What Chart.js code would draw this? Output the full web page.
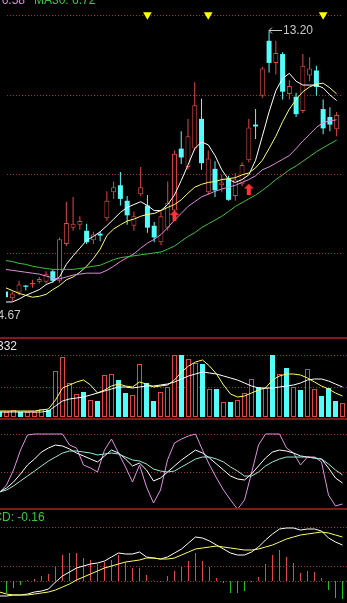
<!DOCTYPE html>
<html>
<head>
<meta charset="utf-8">
<script src="https://cdn.jsdelivr.net/npm/chart.js@4.4.1/dist/chart.umd.min.js"></script>
<style>
  html, body { margin: 0; padding: 0; background: #000; width: 347px; height: 603px; overflow: hidden; }
  canvas { position: absolute; left: 0; display: block; }
  .sep { position: absolute; left: 0; width: 347px; height: 2px; background: #7d1a1a; }
</style>
</head>
<body>
<canvas id="main" width="347" height="337" style="top:0"></canvas>
<div class="sep" style="top:337px"></div>
<canvas id="vol" width="347" height="79" style="top:339px"></canvas>
<div class="sep" style="top:418px"></div>
<canvas id="kdj" width="347" height="88" style="top:420px"></canvas>
<div class="sep" style="top:508px"></div>
<canvas id="macd" width="347" height="93" style="top:510px"></canvas>
<script>
// daily candles, oldest first
const open  = [4.97,4.76,4.94,5.16,5.19,5.28,5.28,5.61,5.31,6.47,6.99,7.08,6.89,6.59,6.80,7.29,8.11,8.33,7.84,7.05,8.05,7.69,7.05,6.53,6.99,7.53,9.49,8.91,9.49,10.43,8.11,8.85,8.33,8.54,7.99,8.36,9.12,10.25,11.16,12.90,12.20,12.48,11.22,11.13,10.68,11.80,11.96,10.74,10.49,10.10];
const high  = [5.06,4.97,5.31,5.17,5.34,5.43,5.61,5.67,6.68,7.81,7.96,7.35,7.11,6.86,6.86,8.14,8.45,8.75,7.99,7.50,8.91,8.02,7.17,7.50,8.45,9.43,10.04,10.43,11.59,11.07,9.43,9.09,8.66,8.63,8.72,9.06,10.43,10.74,12.08,13.20,12.90,12.54,11.65,11.26,12.48,12.38,12.11,11.04,10.80,10.65];
const low   = [4.70,4.67,4.85,5.00,5.09,5.22,5.22,5.25,5.25,6.41,6.89,6.92,6.47,6.47,6.56,7.20,7.90,7.69,7.08,6.89,7.99,6.83,6.53,6.44,6.89,7.44,9.00,8.82,9.43,8.82,8.02,7.96,8.11,7.84,7.84,8.30,9.06,9.79,11.10,11.90,11.83,11.04,11.04,10.49,10.61,11.62,11.16,9.94,10.04,9.88];
const close = [4.79,4.91,5.19,5.12,5.25,5.37,5.52,5.31,6.62,7.14,7.11,7.20,6.53,6.77,6.74,7.84,8.27,7.90,7.38,7.35,8.27,6.99,6.68,7.35,7.78,9.33,9.21,9.88,10.86,9.03,9.18,8.17,8.42,7.87,8.51,8.97,10.16,10.19,12.02,12.20,12.51,11.29,11.47,10.58,12.11,12.02,11.44,10.13,10.25,10.55];

// price moving averages
const ma5  = [4.64,4.64,4.73,4.85,4.94,5.03,5.19,5.28,5.43,5.83,6.10,6.34,6.59,6.71,6.86,7.05,7.26,7.47,7.63,7.72,7.81,7.69,7.53,7.53,7.72,8.02,8.48,8.97,9.49,9.70,9.61,9.27,8.82,8.51,8.42,8.51,8.66,9.12,9.88,10.65,11.32,11.71,11.87,11.62,11.50,11.50,11.50,11.41,11.19,11.01];
const ma10 = [5.09,5.00,4.91,4.85,4.79,4.82,4.88,5.03,5.16,5.34,5.43,5.58,5.77,6.01,6.31,6.74,6.95,7.08,7.20,7.26,7.35,7.41,7.44,7.53,7.63,7.72,7.87,8.08,8.27,8.36,8.42,8.45,8.51,8.54,8.57,8.66,8.72,8.88,9.12,9.49,9.88,10.34,10.74,11.04,11.29,11.44,11.53,11.56,11.41,11.22];
const ma20 = [5.67,5.64,5.61,5.58,5.55,5.52,5.46,5.40,5.37,5.43,5.49,5.52,5.55,5.55,5.55,5.64,5.77,5.92,6.04,6.16,6.34,6.50,6.62,6.77,6.99,7.23,7.44,7.66,7.81,7.96,8.05,8.14,8.21,8.27,8.33,8.42,8.51,8.63,8.82,8.91,9.03,9.15,9.27,9.49,9.73,9.94,10.16,10.31,10.37,10.40];
const ma30 = [5.95,5.92,5.86,5.83,5.77,5.73,5.70,5.67,5.67,5.67,5.67,5.70,5.73,5.77,5.80,5.89,5.98,6.04,6.07,6.10,6.13,6.16,6.19,6.22,6.31,6.41,6.56,6.71,6.83,6.99,7.11,7.23,7.35,7.50,7.66,7.78,7.90,8.02,8.17,8.33,8.51,8.66,8.82,8.94,9.09,9.24,9.39,9.52,9.64,9.76];

// signal marks
const sellIdx = [21, 30, 47];
const sellLevel = [13.72, 13.72, 13.72];
const buyIdx = [25, 36];
const buyLevel = [7.37, 8.21];

// volume and its averages
const vol   = [5,5,7,5,5,5,8,7,46,60,34,23,25,17,16,42,43,37,24,22,53,34,16,25,30,62,62,58,54,53,28,28,15,15,17,24,38,30,29,62,43,49,30,27,48,28,21,29,16,14];
const volMa5  = [6,6,6,6,6,6,7,8,17,29,32,35,37,32,24,27,31,33,31,30,35,33,30,31,32,37,45,51,55,57,51,43,32,23,20,21,24,27,29,37,41,43,43,42,39,35,31,28,24,21];
const volMa10 = [5,5,5,5,5,5,5,6,11,16,18,19,20,22,24,26,28,30,30,29,30,31,31,32,33,35,38,41,43,45,44,43,41,39,37,34,31,29,29,29,30,31,32,34,37,38,38,36,33,30];

// KDJ
const kdjK = [23.7,28.9,36.8,47.4,59.2,67.1,76.3,81.6,85.5,84.2,80.3,75.0,71.1,67.1,63.2,71.1,78.9,75.0,67.1,57.9,61.8,52.6,38.2,42.1,50.0,57.9,65.8,72.4,78.9,75.0,68.4,60.5,52.6,44.7,40.8,39.5,47.4,57.9,68.4,76.3,78.9,77.6,75.0,71.1,69.7,68.4,67.1,55.3,42.1,35.5];
const kdjD = [23.7,26.3,31.6,38.2,44.7,51.3,57.9,64.5,69.7,75.0,77.6,77.6,76.3,75.0,72.4,73.7,75.0,73.7,69.7,65.8,64.5,60.5,53.9,51.3,50.0,51.3,56.6,61.8,67.1,69.7,69.7,67.1,63.2,56.6,51.3,44.7,44.7,50.0,57.9,63.2,67.1,69.7,69.7,69.7,69.7,68.4,67.1,60.5,52.6,46.1];
const kdjJ = [22.8,32.9,52.6,78.9,98.7,100,100,100,100,100,85.5,81.6,59.2,55.3,50.0,78.9,93.4,75.0,56.6,36.8,59.2,30.3,9.2,26.3,65.8,88.2,93.4,97.4,100,78.9,59.2,42.1,26.3,13.2,1.0,13.2,48.7,85.5,100,100,100,81.6,75.0,59.2,69.7,69.7,63.2,19.7,5.3,7.9];

// MACD
const dif  = [-0.15,-0.15,-0.14,-0.14,-0.13,-0.11,-0.10,-0.08,-0.01,0.05,0.09,0.13,0.15,0.17,0.18,0.20,0.24,0.28,0.27,0.27,0.29,0.24,0.23,0.22,0.24,0.28,0.32,0.38,0.44,0.43,0.40,0.36,0.32,0.28,0.26,0.26,0.29,0.34,0.41,0.47,0.52,0.53,0.53,0.51,0.52,0.52,0.50,0.43,0.39,0.36];
const dea  = [-0.11,-0.13,-0.14,-0.14,-0.14,-0.13,-0.12,-0.11,-0.09,-0.06,-0.03,0.01,0.04,0.07,0.10,0.13,0.15,0.17,0.19,0.20,0.21,0.23,0.23,0.22,0.22,0.23,0.26,0.29,0.32,0.33,0.34,0.35,0.34,0.33,0.32,0.31,0.31,0.32,0.34,0.36,0.39,0.42,0.44,0.46,0.47,0.48,0.49,0.48,0.46,0.44];
const macdBar = [-0.10,-0.12,-0.07,-0.04,0.01,0.02,0.05,0.07,0.14,0.26,0.28,0.28,0.23,0.21,0.17,0.19,0.21,0.26,0.19,0.13,0.13,0.06,0.005,-0.01,0.05,0.10,0.14,0.20,0.28,0.20,0.14,0.03,-0.02,-0.12,-0.12,-0.10,-0.01,0.04,0.17,0.26,0.31,0.24,0.18,0.08,0.10,0.09,0.03,-0.09,-0.17,-0.18];

// dotted grid levels
const priceGrid = [13.70, 11.19, 8.69, 6.19];
const volGrid = [30, 62];
const kdjGrid = [100, 50];
const macdGrid = [0.54, 0.15, 0];

const RED = '#e04848';
const CYAN = '#54fcfc';
const FONT = '12px "Liberation Sans", Arial, sans-serif';

const idx = close.map((_, i) => i);
const isUp = close.map((c, i) => c >= open[i]);
const pts = arr => arr.map((v, i) => ({ x: i, y: v }));

// candle i sits at pixel 7*i - 0.5
const X_MIN = 1 / 14;
const X_MAX = X_MIN + 347 / 7;

const dotGrid = {
  id: 'dotGrid',
  beforeDatasetsDraw(chart, args, opts) {
    const ctx = chart.ctx, y = chart.scales.y, a = chart.chartArea;
    ctx.save();
    ctx.fillStyle = '#a03030';
    (opts.values || []).forEach(v => {
      const py = Math.round(y.getPixelForValue(v));
      for (let x = a.left + 1; x < a.right; x += 3) ctx.fillRect(x, py, 1, 1);
    });
    ctx.restore();
  }
};
Chart.register(dotGrid);

function lineSet(arr, color) {
  return { type: 'line', data: pts(arr), borderColor: color, borderWidth: 1, pointRadius: 0, tension: 0, order: 1 };
}

function opts(min, max, grid) {
  return {
    responsive: false,
    animation: false,
    devicePixelRatio: 1,
    events: [],
    layout: { padding: 0 },
    scales: {
      x: { type: 'linear', display: false, offset: false, grid: { offset: false }, min: X_MIN, max: X_MAX },
      y: { type: 'linear', display: false, min: min, max: max }
    },
    plugins: { legend: { display: false }, tooltip: { enabled: false }, dotGrid: { values: grid } }
  };
}

function makeArrow(color) {
  const c = document.createElement('canvas');
  c.width = 10; c.height = 11;
  const g = c.getContext('2d');
  g.fillStyle = color;
  g.beginPath();
  g.moveTo(5, 0); g.lineTo(10, 5); g.lineTo(7, 5); g.lineTo(7, 11);
  g.lineTo(3, 11); g.lineTo(3, 5); g.lineTo(0, 5); g.closePath();
  g.fill();
  return c;
}

// ---- main price panel
new Chart(document.getElementById('main'), {
  type: 'bar',
  data: {
    datasets: [
      {
        data: idx.map(i => ({ x: i, y: [low[i], high[i]] })),
        backgroundColor: idx.map(i => isUp[i] ? RED : CYAN),
        barThickness: 1, grouped: false, inflateAmount: 0, order: 3
      },
      {
        data: idx.map(i => ({ x: i, y: [open[i], close[i]] })),
        backgroundColor: idx.map(i => isUp[i] ? '#000' : CYAN),
        borderColor: idx.map(i => isUp[i] ? RED : CYAN),
        borderWidth: idx.map(i => isUp[i] ? 1 : 0),
        borderSkipped: false, minBarLength: 1,
        barThickness: 5, grouped: false, inflateAmount: 0, order: 2
      },
      lineSet(ma30, '#40c040'),
      lineSet(ma20, '#e08ce0'),
      lineSet(ma10, '#ffff66'),
      lineSet(ma5, '#ffffff'),
      {
        type: 'line', showLine: false, order: 0,
        data: sellIdx.map((k, j) => ({ x: k, y: sellLevel[j] })),
        pointStyle: 'triangle', rotation: 180, pointRadius: 5,
        backgroundColor: '#ffff00', borderWidth: 0
      },
      {
        type: 'line', showLine: false, order: 0,
        data: buyIdx.map((k, j) => ({ x: k, y: buyLevel[j] })),
        pointStyle: makeArrow('#ff3333'), pointRadius: 5
      }
    ]
  },
  options: opts(14 - 0.0305 * 337, 14, priceGrid),
  plugins: [{
    id: 'mainText',
    afterDraw(chart) {
      const ctx = chart.ctx, x = chart.scales.x, y = chart.scales.y;
      ctx.save();
      ctx.font = FONT;
      ctx.textBaseline = 'alphabetic';
      ctx.fillStyle = '#e08ce0'; ctx.textAlign = 'right';
      ctx.fillText('MA20: 6.58', 25, 4);
      ctx.fillStyle = '#3cc83c'; ctx.textAlign = 'left';
      ctx.fillText('MA30: 6.72', 34, 4);

      // highest high
      const hi = high.indexOf(Math.max(...high));
      const hx = Math.round(x.getPixelForValue(hi));
      const hy = Math.round(y.getPixelForValue(high[hi])) - 0.5;
      ctx.strokeStyle = '#c8c8c8'; ctx.lineWidth = 1;
      ctx.beginPath();
      ctx.moveTo(hx, hy); ctx.lineTo(hx + 13, hy);
      ctx.moveTo(hx + 3, hy - 3); ctx.lineTo(hx, hy); ctx.lineTo(hx + 3, hy + 3);
      ctx.stroke();
      ctx.fillStyle = '#c8c8c8'; ctx.textBaseline = 'middle';
      ctx.fillText(high[hi].toFixed(2), hx + 14, hy);

      // lowest low
      const lo = low.indexOf(Math.min(...low));
      const lx = x.getPixelForValue(lo), ly = y.getPixelForValue(low[lo]);
      ctx.textAlign = 'right';
      ctx.fillText(low[lo].toFixed(2), lx + 8.5, ly + 15);
      ctx.restore();
    }
  }]
});

// ---- volume panel
new Chart(document.getElementById('vol'), {
  type: 'bar',
  data: {
    datasets: [
      {
        data: idx.map(i => ({ x: i, y: vol[i] })),
        backgroundColor: idx.map(i => isUp[i] ? '#000' : CYAN),
        borderColor: idx.map(i => isUp[i] ? RED : CYAN),
        borderWidth: idx.map(i => isUp[i] ? 1 : 0),
        borderSkipped: false,
        barThickness: 5, grouped: false, inflateAmount: 0, order: 2
      },
      lineSet(volMa10, '#ffffff'),
      lineSet(volMa5, '#ffff66')
    ]
  },
  options: opts(-1, 78, volGrid),
  plugins: [{
    id: 'volText',
    afterDraw(chart) {
      const ctx = chart.ctx;
      ctx.save();
      ctx.font = FONT; ctx.fillStyle = '#e8e8e8';
      ctx.textAlign = 'right'; ctx.textBaseline = 'middle';
      ctx.fillText('332', 17, 8);
      ctx.restore();
    }
  }]
});

// ---- KDJ panel
new Chart(document.getElementById('kdj'), {
  type: 'line',
  data: {
    datasets: [
      lineSet(kdjD, '#9ee8d8'),
      lineSet(kdjK, '#ffffff'),
      lineSet(kdjJ, '#e090e0')
    ]
  },
  options: opts((510 - 508) / 0.76, (510 - 420) / 0.76, kdjGrid)
});

// ---- MACD panel
new Chart(document.getElementById('macd'), {
  type: 'bar',
  data: {
    datasets: [
      {
        data: idx.map(i => ({ x: i, y: macdBar[i] })),
        backgroundColor: macdBar.map(v => v >= 0 ? RED : '#20c020'),
        barThickness: 1, grouped: false, inflateAmount: 0, order: 2
      },
      lineSet(dea, '#ffff66'),
      lineSet(dif, '#ffffff')
    ]
  },
  options: opts(-0.22, 0.71, macdGrid),
  plugins: [{
    id: 'macdText',
    afterDraw(chart) {
      const ctx = chart.ctx;
      ctx.save();
      ctx.font = FONT; ctx.fillStyle = '#3cc83c';
      ctx.textAlign = 'left'; ctx.textBaseline = 'middle';
      const w = ctx.measureText('MAC').width;
      ctx.fillText('MACD: -0.16', 2 - w, 8);
      ctx.restore();
    }
  }]
});
</script>
</body>
</html>
